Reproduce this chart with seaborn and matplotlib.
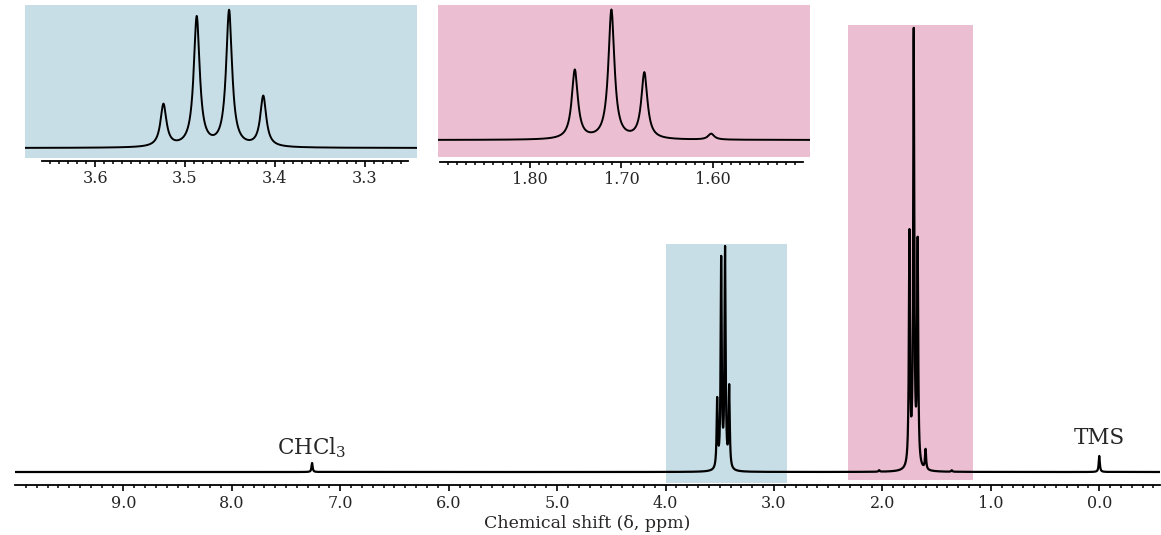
import numpy as np
import pandas as pd
import matplotlib
matplotlib.use("Agg")
import matplotlib.pyplot as plt
import seaborn as sns
from matplotlib.ticker import FixedLocator, FormatStrFormatter

# ---------------- data ----------------
quartet_ppm = [3.524, 3.487, 3.451, 3.413]
quartet_int = [68, 208, 218, 81]
triplet_ppm = [1.751, 1.711, 1.675, 1.602]
triplet_int = [232, 433, 222, 20]
minor_ppm = [2.03, 1.36]
minor_int = [1.5, 1.5]
ref_ppm = [7.26, 0.0]          # CHCl3, TMS
ref_int = [9, 16]
ref_labels = ["CHCl$_3$", "TMS"]
inset_hwhm = 0.004             # Lorentzian half width in the expansions (ppm)
main_hwhm = 0.006              # Lorentzian half width in the full spectrum (ppm)

main_ticks = [9.0, 8.0, 7.0, 6.0, 5.0, 4.0, 3.0, 2.0, 1.0, 0.0]
blue_ticks = [3.6, 3.5, 3.4, 3.3]
pink_ticks = [1.80, 1.70, 1.60]
xlabel = "Chemical shift (\u03b4, ppm)"

blue_col = "#c8dee6"
pink_col = "#ecbed2"

peaks_ppm = quartet_ppm + triplet_ppm + minor_ppm + ref_ppm
peaks_int = quartet_int + triplet_int + minor_int + ref_int


def spectrum(x, w):
    y = np.zeros_like(x)
    for c, h in zip(peaks_ppm, peaks_int):
        y += h / (1.0 + ((x - c) / w) ** 2)
    return y


sns.set_theme(style="white")
FONT = ["DejaVu Serif", "Liberation Serif"]
plt.rcParams["font.family"] = FONT
plt.rcParams["mathtext.fontset"] = "custom"
plt.rcParams["mathtext.rm"] = "DejaVu Serif"
plt.rcParams["mathtext.default"] = "regular"

W, H = 1161, 535
fig = plt.figure(figsize=(W / 100, H / 100), dpi=100)
fig.patch.set_facecolor("white")


def px_axes(x0, y0, x1, y1):
    return fig.add_axes([x0 / W, 1 - y1 / H, (x1 - x0) / W, (y1 - y0) / H])


def style_axis(ax, major_ticks, minor_ticks, fmt, fs, pad=3):
    for s in ["top", "left", "right"]:
        ax.spines[s].set_visible(False)
    ax.spines["bottom"].set_color("black")
    ax.spines["bottom"].set_linewidth(1.3)
    ax.set_yticks([])
    ax.xaxis.set_major_locator(FixedLocator(major_ticks))
    ax.xaxis.set_minor_locator(FixedLocator(minor_ticks))
    ax.xaxis.set_major_formatter(FormatStrFormatter(fmt))
    ax.tick_params(axis="x", which="major", direction="out", length=4.5, width=1.2,
                   color="black", labelsize=fs, pad=pad, bottom=True)
    ax.tick_params(axis="x", which="minor", direction="out", length=2.5, width=1.1,
                   color="black", bottom=True)
    ax.set_ylabel("")
    ax.set_xlabel("")
    ax.grid(False)


# ---------------- main spectrum ----------------
ax = px_axes(15, 25, 1160, 485)
ax.set_facecolor("none")
xmain = np.arange(-0.56, 10.0, 0.0005)
df_main = pd.DataFrame({"ppm": xmain, "intensity": spectrum(xmain, main_hwhm)})
ax.axvspan(4.0, 2.876, ymin=0.005, ymax=0.524, color=blue_col, lw=0, zorder=0)
ax.axvspan(2.313, 1.161, ymin=0.01, ymax=1.0, color=pink_col, lw=0, zorder=0)
sns.lineplot(data=df_main, x="ppm", y="intensity", ax=ax, color="black",
             lw=1.6, estimator=None, sort=False, zorder=3)
ax.set_xlim(10.0, -0.56)
ax.set_ylim(-13, 447)
style_axis(ax, main_ticks, np.round(np.arange(-0.5, 9.95, 0.1), 2), "%.1f", 11.5, pad=2.5)
ax.set_xlabel(xlabel, fontsize=12.5, labelpad=2)
ax.text(ref_ppm[0], 12, ref_labels[0], ha="center", va="bottom", fontsize=15.5)
ax.text(ref_ppm[1], 23, ref_labels[1], ha="center", va="bottom", fontsize=15.5)

# ---------------- blue inset (3.2-3.7 ppm) ----------------
axb = px_axes(25, 5, 417, 161)
axb.set_facecolor("none")
xb = np.arange(3.242, 3.679, 0.0002)
df_b = pd.DataFrame({"ppm": xb, "intensity": spectrum(xb, inset_hwhm)})
axb.set_xlim(3.678, 3.242)
sb = max(quartet_int) / 136.0
axb.set_ylim(-13 * sb, 143 * sb)
axb.axvspan(3.678, 3.242, ymin=0.019, ymax=1.0, color=blue_col, lw=0, zorder=0)
sns.lineplot(data=df_b, x="ppm", y="intensity", ax=axb, color="black",
             lw=1.4, estimator=None, sort=False, zorder=3)
style_axis(axb, blue_ticks, np.round(np.arange(3.26, 3.655, 0.01), 3), "%.1f", 11.5, pad=2)
axb.spines["bottom"].set_bounds(3.659, 3.252)

# ---------------- pink inset (1.5-1.9 ppm) ----------------
axp = px_axes(438, 5, 810, 162)
axp.set_facecolor("none")
xp = np.arange(1.494, 1.901, 0.0002)
df_p = pd.DataFrame({"ppm": xp, "intensity": spectrum(xp, inset_hwhm)})
axp.set_xlim(1.9005, 1.494)
sp = max(triplet_int) / 129.0
axp.set_ylim(-22 * sp, 135 * sp)
axp.axvspan(1.9005, 1.494, ymin=0.032, ymax=1.0, color=pink_col, lw=0, zorder=0)
sns.lineplot(data=df_p, x="ppm", y="intensity", ax=axp, color="black",
             lw=1.4, estimator=None, sort=False, zorder=3)
style_axis(axp, pink_ticks, np.round(np.arange(1.51, 1.895, 0.01), 3), "%.2f", 11.5, pad=2)
axp.spines["bottom"].set_bounds(1.898, 1.502)

for a in (ax, axb, axp):
    leg = a.get_legend()
    if leg is not None:
        leg.remove()

fig.savefig("out.png", dpi=100, facecolor="white")
